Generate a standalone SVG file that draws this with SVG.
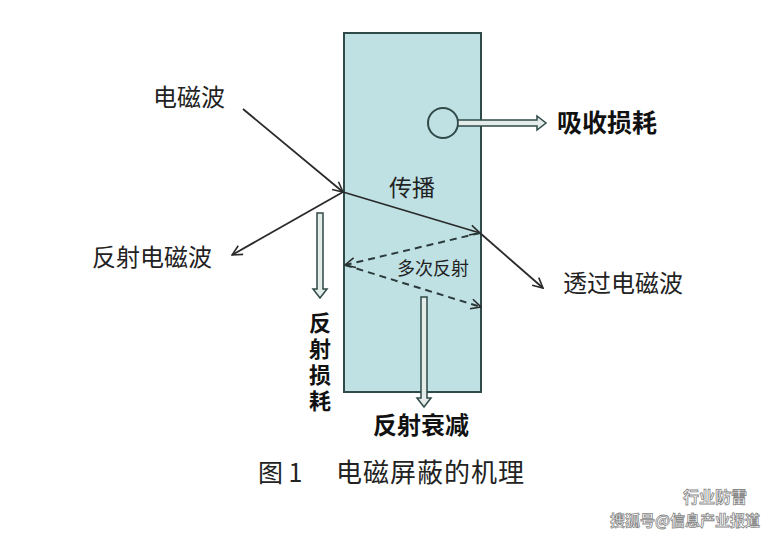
<svg xmlns="http://www.w3.org/2000/svg" width="778" height="536" viewBox="0 0 778 536">
<style>
.t{font-family:"Noto Sans CJK SC","Liberation Serif",serif;fill:#222;}
.b{font-family:"Noto Sans CJK SC","Liberation Sans",sans-serif;font-weight:bold;fill:#111;}
.ln{stroke:#2a2a2a;stroke-width:1.8;fill:none;}
.dash{stroke:#2a3a3a;stroke-width:2;fill:none;stroke-dasharray:7 5;}
.hollow{fill:#e4ecea;stroke:#2f4a48;stroke-width:1.5;}
.wm{font-family:"Noto Sans CJK SC",sans-serif;font-weight:bold;fill:#fff;stroke:#888;stroke-width:0.8;}
</style>
<defs>
<marker id="oa" viewBox="0 0 12 12" refX="11" refY="6" markerWidth="12" markerHeight="12" markerUnits="userSpaceOnUse" orient="auto">
<path d="M1,1 L11,6 L1,11" fill="none" stroke="#2a2a2a" stroke-width="1.6"/>
</marker>
</defs>
<rect width="778" height="536" fill="#fff"/>
<g id="slab">
<rect x="344" y="33" width="137" height="359" fill="#bfe1e4" stroke="#2f4a48" stroke-width="2"/>
</g>
<g id="absorb">
<circle cx="443" cy="123" r="15" fill="#bfe1e4" stroke="#2f4a48" stroke-width="2"/>
</g>
<g id="connectors">
<path class="hollow" d="M458,120 L537,120 L537,116 L546,123 L537,130 L537,126 L458,126 Z"/>
<path class="hollow" d="M317,213 L323,213 L323,289 L327,289 L320,298 L313,289 L317,289 Z"/>
<path class="hollow" d="M421,297 L427,297 L427,398 L431,398 L424,407 L417,398 L421,398 Z"/>
<line class="ln" x1="243" y1="109" x2="343" y2="192" marker-end="url(#oa)"/>
<line class="ln" x1="343" y1="192" x2="232" y2="255" marker-end="url(#oa)"/>
<line class="ln" x1="343" y1="192" x2="480" y2="233" marker-end="url(#oa)"/>
<line class="ln" x1="480" y1="233" x2="543" y2="288" marker-end="url(#oa)"/>
<line class="dash" x1="480" y1="233" x2="345" y2="265" marker-end="url(#oa)"/>
<line class="dash" x1="345" y1="265" x2="481" y2="307" marker-end="url(#oa)"/>
</g>
<g id="labels">
<text class="t" x="189" y="106" font-size="24" text-anchor="middle">电磁波</text>
<text class="t" x="152" y="266" font-size="24" text-anchor="middle">反射电磁波</text>
<text class="t" x="623" y="292" font-size="24" text-anchor="middle">透过电磁波</text>
<text class="t" x="412" y="196" font-size="23" text-anchor="middle">传播</text>
<text class="t" x="433" y="275" font-size="18" text-anchor="middle">多次反射</text>
<text class="b" x="557" y="132" font-size="25">吸收损耗</text>
<text class="b" x="421" y="434" font-size="24" text-anchor="middle">反射衰减</text>
<text class="b" x="320" y="312" font-size="22" letter-spacing="4" style="writing-mode:vertical-rl">反射损耗</text>
<text class="t" x="258" y="482" font-size="25">图 1</text>
<text class="t" x="336" y="482" font-size="26" letter-spacing="1">电磁屏蔽的机理</text>
</g>
<g id="watermark">
<text class="wm" x="683" y="503" font-size="16">行业防雷</text>
<text class="wm" x="610" y="526" font-size="15">搜狐号@信息产业报道</text>
</g>
</svg>
